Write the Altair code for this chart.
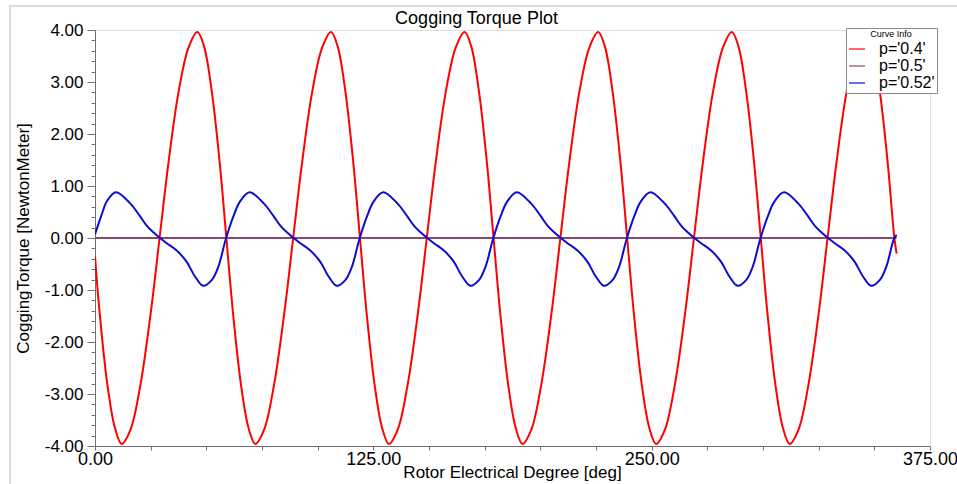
import altair as alt
import pandas as pd

FONT = "Liberation Sans"

# ---- data ----
red_deg = [0, 2, 5.5, 9,
           12, 16, 20.5, 25, 29, 33, 37.5, 42, 46, 49, 52.5, 56, 59, 62, 65.5, 69,
           72, 76, 80.5, 85, 89, 93, 97.5, 102, 106, 109, 112.5, 116, 119, 122, 125.5, 129,
           132, 136, 140.5, 145, 149, 153, 157.5, 162, 166, 169, 172.5, 176, 179, 182, 185.5, 189,
           192, 196, 200.5, 205, 209, 213, 217.5, 222, 226, 229, 232.5, 236, 239, 242, 245.5, 249,
           252, 256, 260.5, 265, 269, 273, 277.5, 282, 286, 289, 292.5, 296, 299, 302, 305.5, 309,
           312, 316, 320.5, 325, 329, 333, 337.5, 342, 346, 349, 352.5, 356, 359, 360]
red_val = [-0.35, -1.40, -2.80, -3.66,
           -3.96, -3.68, -2.80, -1.45, 0, 1.45, 2.80, 3.66, 3.96, 3.68, 2.80, 1.45, 0, -1.45, -2.80, -3.66,
           -3.96, -3.68, -2.80, -1.45, 0, 1.45, 2.80, 3.66, 3.96, 3.68, 2.80, 1.45, 0, -1.45, -2.80, -3.66,
           -3.96, -3.68, -2.80, -1.45, 0, 1.45, 2.80, 3.66, 3.96, 3.68, 2.80, 1.45, 0, -1.45, -2.80, -3.66,
           -3.96, -3.68, -2.80, -1.45, 0, 1.45, 2.80, 3.66, 3.96, 3.68, 2.80, 1.45, 0, -1.45, -2.80, -3.66,
           -3.96, -3.68, -2.80, -1.45, 0, 1.45, 2.80, 3.66, 3.96, 3.68, 2.80, 1.45, 0, -1.45, -2.80, -3.66,
           -3.96, -3.68, -2.80, -1.45, 0, 1.45, 2.80, 3.66, 3.96, 3.68, 2.80, 1.45, 0, -0.30]

purple_deg = [0, 60, 120, 180, 240, 300, 360]
purple_val = [0, 0, 0, 0, 0, 0, 0]

blue_deg = [0, 3.0, 5.5,
            9.4, 15.7, 20.2, 23.2, 26.2, 29.2, 32.2, 36.7, 41.2, 44.9, 48.6, 52.4, 55.4, 58.7, 62.1, 65.1,
            69.4, 75.7, 80.2, 83.2, 86.2, 89.2, 92.2, 96.7, 101.2, 104.9, 108.6, 112.4, 115.4, 118.7, 122.1, 125.1,
            129.4, 135.7, 140.2, 143.2, 146.2, 149.2, 152.2, 156.7, 161.2, 164.9, 168.6, 172.4, 175.4, 178.7, 182.1, 185.1,
            189.4, 195.7, 200.2, 203.2, 206.2, 209.2, 212.2, 216.7, 221.2, 224.9, 228.6, 232.4, 235.4, 238.7, 242.1, 245.1,
            249.4, 255.7, 260.2, 263.2, 266.2, 269.2, 272.2, 276.7, 281.2, 284.9, 288.6, 292.4, 295.4, 298.7, 302.1, 305.1,
            309.4, 315.7, 320.2, 323.2, 326.2, 329.2, 332.2, 336.7, 341.2, 344.9, 348.6, 352.4, 355.4, 358.7, 360]
blue_val = [0.07, 0.45, 0.72,
            0.88, 0.67, 0.42, 0.24, 0.11, 0.0, -0.10, -0.24, -0.46, -0.74, -0.92, -0.81, -0.55, -0.03, 0.41, 0.70,
            0.88, 0.67, 0.42, 0.24, 0.11, 0.0, -0.10, -0.24, -0.46, -0.74, -0.92, -0.81, -0.55, -0.03, 0.41, 0.70,
            0.88, 0.67, 0.42, 0.24, 0.11, 0.0, -0.10, -0.24, -0.46, -0.74, -0.92, -0.81, -0.55, -0.03, 0.41, 0.70,
            0.88, 0.67, 0.42, 0.24, 0.11, 0.0, -0.10, -0.24, -0.46, -0.74, -0.92, -0.81, -0.55, -0.03, 0.41, 0.70,
            0.88, 0.67, 0.42, 0.24, 0.11, 0.0, -0.10, -0.24, -0.46, -0.74, -0.92, -0.81, -0.55, -0.03, 0.41, 0.70,
            0.88, 0.67, 0.42, 0.24, 0.11, 0.0, -0.10, -0.24, -0.46, -0.74, -0.92, -0.81, -0.55, -0.03, 0.06]

series_names = ["p='0.4'", "p='0.5'", "p='0.52'"]
series_colors = ["#ff0000", "#864a70", "#0c0cd0"]

x_ticks = [0, 25, 50, 75, 100, 125, 150, 175, 200, 225, 250, 275, 300, 325, 350, 375]
y_ticks = [round(-4 + 0.2 * i, 1) for i in range(41)]

frames = []
for name, d, v in [(series_names[0], red_deg, red_val),
                   (series_names[1], purple_deg, purple_val),
                   (series_names[2], blue_deg, blue_val)]:
    frames.append(pd.DataFrame({"deg": d, "val": v, "curve": name}))
df = pd.concat(frames, ignore_index=True)

x_axis = alt.Axis(
    values=x_ticks,
    labelExpr="datum.value % 125 == 0 ? format(datum.value, '.2f') : ''",
    tickSize=4, tickColor="#707070", domainColor="#707070",
    labelFont=FONT, labelFontSize=18, labelColor="black",
    labelPadding=0, labelFlush=False, labelOverlap=False,
    grid=False,
    title="Rotor Electrical Degree [deg]", titleFont=FONT, titleFontSize=17,
    titleFontWeight="normal", titleColor="black",
    titleX=417, titleY=31, titleBaseline="alphabetic", titleAlign="center",
)
y_axis = alt.Axis(
    values=y_ticks,
    labelExpr="abs(datum.value - round(datum.value)) < 0.001 ? (datum.value < 0 ? '-' : '') + format(abs(datum.value), '.2f') : ''",
    tickSize={"condition": {"test": "abs(datum.value - round(datum.value)) < 0.001", "value": 8}, "value": 4},
    tickColor="#707070", domainColor="#707070",
    labelFont=FONT, labelFontSize=17, labelColor="black",
    labelPadding=4, labelFlush=False, labelOverlap=False,
    grid=False,
    title="CoggingTorque [NewtonMeter]", titleFont=FONT, titleFontSize=17,
    titleFontWeight="normal", titleColor="black",
    titleX=-72, titleY=208, titleAngle=270, titleAlign="center", titleBaseline="middle",
)

lines = alt.Chart(df).mark_line(interpolate="catmull-rom", strokeWidth=2, clip=True).encode(
    x=alt.X("deg:Q", scale=alt.Scale(domain=[0, 375], nice=False, zero=False), axis=x_axis),
    y=alt.Y("val:Q", scale=alt.Scale(domain=[-4, 4], nice=False, zero=False), axis=y_axis),
    color=alt.Color(
        "curve:N",
        scale=alt.Scale(domain=series_names, range=series_colors),
        legend=alt.Legend(
            orient="none", legendX=751, legendY=-2,
            title="Curve Info", titleFont=FONT, titleFontSize=9, titleFontWeight="normal",
            titleColor="black", titleAnchor="middle", titlePadding=1,
            labelFont=FONT, labelFontSize=16, labelColor="black", labelOffset=13,
            symbolType="stroke", symbolStrokeWidth=2, symbolSize=256, symbolOpacity=0.6,
            fillColor="white", strokeColor="#8a8a8a", padding=2, rowPadding=0,
        ),
    ),
    order=alt.Order("deg:Q"),
)

frame = alt.Chart(pd.DataFrame({"a": [0]})).mark_rect(
    filled=False, stroke="#dcdcdc", strokeWidth=2
).encode(
    x=alt.value(-85), x2=alt.value(900), y=alt.value(-24), y2=alt.value(480)
)

chart = alt.layer(frame, lines).properties(
    width=835, height=416,
    title=alt.TitleParams("Cogging Torque Plot", font=FONT, fontSize=18, fontWeight="normal",
                          color="black", anchor="middle", frame="group", dx=-36, dy=44, offset=7,
                          baseline="alphabetic"),
    autosize=alt.AutoSizeParams(type="none"),
    padding={"left": 95, "top": 30, "right": 27, "bottom": 38},
).configure_view(stroke="#707070", strokeWidth=1.5).configure(background="white")

chart.save("out.html", embed_options={"renderer": "svg", "actions": False})
